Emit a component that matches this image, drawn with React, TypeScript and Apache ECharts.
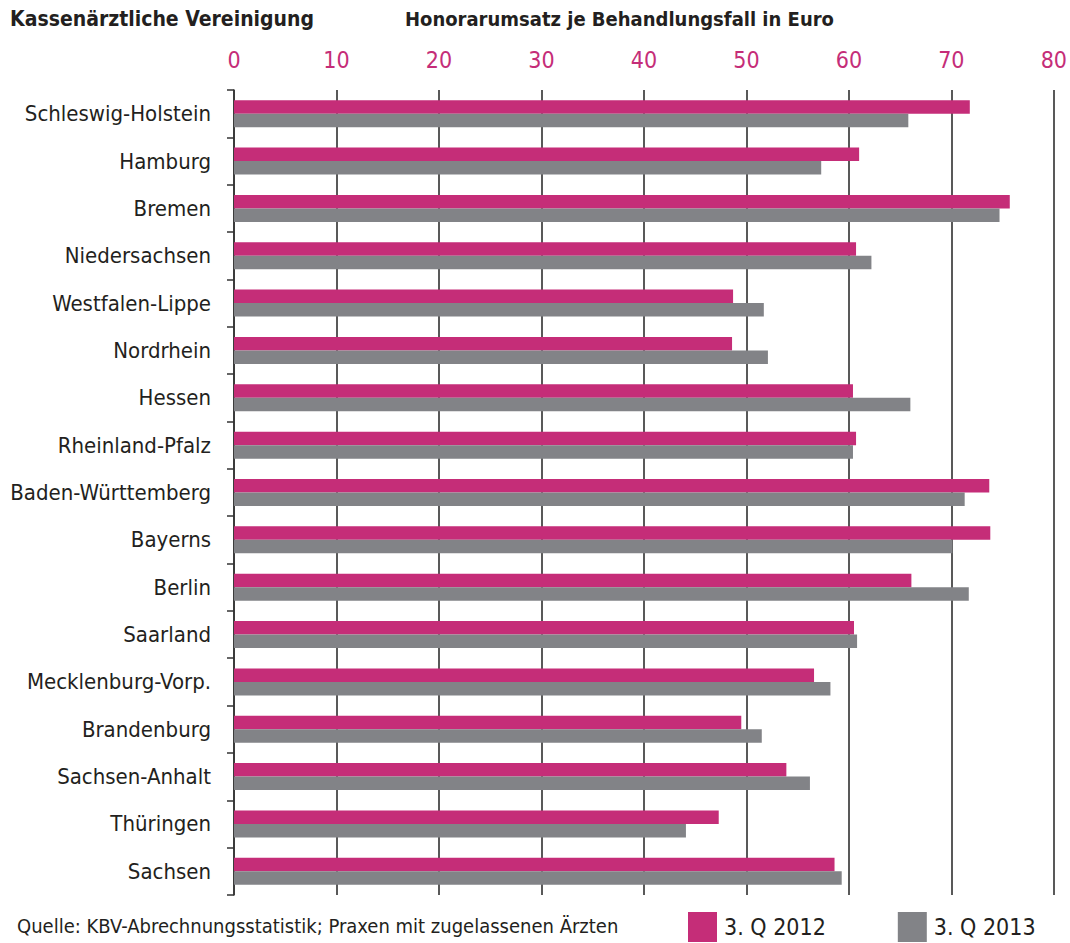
import React, { useEffect, useRef } from "react";
import * as echarts from "echarts";

const categories = [
  "Schleswig-Holstein",
  "Hamburg",
  "Bremen",
  "Niedersachsen",
  "Westfalen-Lippe",
  "Nordrhein",
  "Hessen",
  "Rheinland-Pfalz",
  "Baden-Württemberg",
  "Bayerns",
  "Berlin",
  "Saarland",
  "Mecklenburg-Vorp.",
  "Brandenburg",
  "Sachsen-Anhalt",
  "Thüringen",
  "Sachsen",
];

const q2012 = [71.8, 61.0, 75.7, 60.7, 48.7, 48.6, 60.4, 60.7, 73.7, 73.8, 66.1, 60.5, 56.6, 49.5, 53.9, 47.3, 58.6];
const q2013 = [65.8, 57.3, 74.7, 62.2, 51.7, 52.1, 66.0, 60.4, 71.3, 70.1, 71.7, 60.8, 58.2, 51.5, 56.2, 44.1, 59.3];

const seriesNames = ["3. Q 2012", "3. Q 2013"];
const titleLeft = "Kassenärztliche Vereinigung";
const titleAxis = "Honorarumsatz je Behandlungsfall in Euro";
const sourceText = "Quelle: KBV-Abrechnungsstatistik; Praxen mit zugelassenen Ärzten";

const FONT = "'Liberation Sans Narrow', 'DejaVu Sans Condensed', 'Arial Narrow', sans-serif";
const PINK = "#c52d78";
const GRAY = "#828387";
const TEXT = "#231f20";

export default function App() {
  const ref = useRef<HTMLDivElement>(null);
  useEffect(() => {
    if (!ref.current) return;
    const chart = echarts.init(ref.current, undefined, { renderer: "svg" });
    chart.setOption({
      animation: false,
      textStyle: { fontFamily: FONT },
      grid: { left: 234, right: 16, top: 90, bottom: 48, containLabel: false },
      legend: {
        data: seriesNames,
        left: 688,
        top: 912,
        padding: 0,
        itemWidth: 29,
        itemHeight: 30,
        itemGap: 72,
        icon: "rect",
        textStyle: { fontFamily: FONT, fontSize: 23, color: TEXT, padding: [0, 0, 0, 2] },
      },
      graphic: [
        {
          type: "text",
          left: 10,
          top: 8,
          style: { text: titleLeft, font: `bold 21px ${FONT}`, fill: TEXT },
        },
        {
          type: "text",
          left: 405,
          top: 9,
          style: { text: titleAxis, font: `bold 20px ${FONT}`, fill: TEXT },
        },
        {
          type: "text",
          left: 17,
          top: 916,
          style: { text: sourceText, font: `20px ${FONT}`, fill: TEXT },
        },
      ],
      xAxis: {
        type: "value",
        position: "top",
        min: 0,
        max: 80,
        interval: 10,
        axisLine: { show: false },
        axisTick: { show: false },
        axisLabel: { color: PINK, fontSize: 23, fontFamily: FONT, margin: 19 },
        splitLine: { show: true, lineStyle: { color: "#222", width: 1.5 } },
      },
      yAxis: {
        type: "category",
        inverse: true,
        data: categories,
        axisLine: { show: true, lineStyle: { color: "#333", width: 1.5 } },
        axisTick: { show: true, length: 7, lineStyle: { color: "#333", width: 1.5 } },
        axisLabel: { color: TEXT, fontSize: 22, fontFamily: FONT, margin: 23, padding: [5, 0, 0, 0] },
      },
      series: [
        {
          name: seriesNames[0],
          type: "bar",
          data: q2012,
          barWidth: 13.5,
          barGap: "0%",
          itemStyle: { color: PINK },
        },
        {
          name: seriesNames[1],
          type: "bar",
          data: q2013,
          barWidth: 13.5,
          barGap: "0%",
          itemStyle: { color: GRAY },
        },
      ],
    });
    return () => chart.dispose();
  }, []);
  return <div ref={ref} style={{ width: 1070, height: 943, position: "absolute", left: 0, top: 0 }} />;
}
